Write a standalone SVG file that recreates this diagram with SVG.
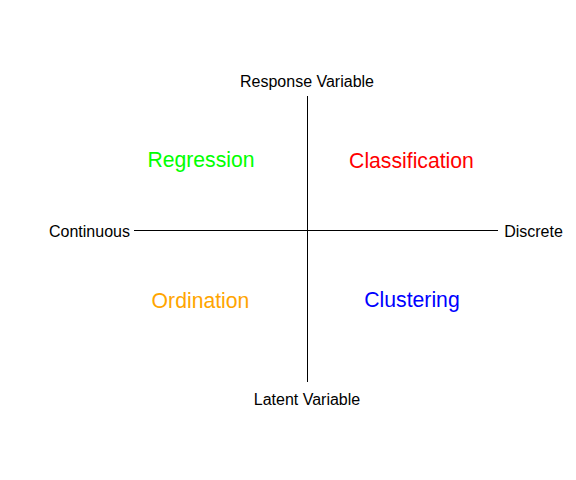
<svg xmlns="http://www.w3.org/2000/svg" width="576" height="480" viewBox="0 0 576 480">
<style>
.axis{stroke:#000;stroke-width:1;fill:none}
.lbl{font-family:"Liberation Sans",Arial,sans-serif;font-size:16px;fill:#000;text-anchor:middle}
.big{font-family:"Liberation Sans",Arial,sans-serif;font-size:21.2px;text-anchor:middle}
</style>
<rect width="576" height="480" fill="#fff"/>
<g id="connectors">
<line class="axis" x1="307.5" y1="96" x2="307.5" y2="382"/>
<line class="axis" x1="134" y1="230.5" x2="498" y2="230.5"/>
</g>
<g id="response"><text class="lbl" x="307" y="87">Response Variable</text></g>
<g id="latent"><text class="lbl" x="307" y="405">Latent Variable</text></g>
<g id="continuous"><text class="lbl" x="89.5" y="237">Continuous</text></g>
<g id="discrete"><text class="lbl" x="533.5" y="237">Discrete</text></g>
<g id="regression"><text class="big" x="201" y="167" fill="#00FF00">Regression</text></g>
<g id="classification"><text class="big" x="411.5" y="168" fill="#FF0000">Classification</text></g>
<g id="ordination"><text class="big" x="200.5" y="308" fill="#FFA500">Ordination</text></g>
<g id="clustering"><text class="big" x="412" y="307" fill="#0000FF">Clustering</text></g>
</svg>
